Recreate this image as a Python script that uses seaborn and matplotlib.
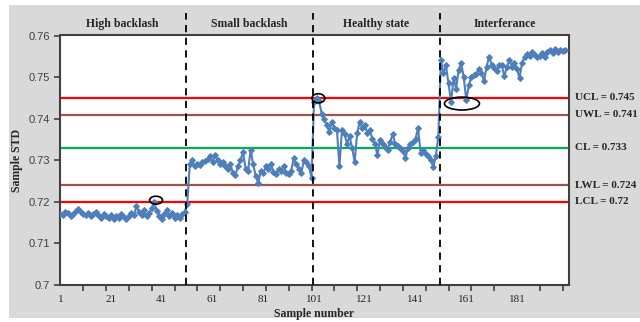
import numpy as np
import pandas as pd
import seaborn as sns
import matplotlib.pyplot as plt
from matplotlib.patches import Ellipse, Rectangle
import matplotlib.transforms as mtransforms

# ---------------- data ----------------
high_backlash = [
    0.7170, 0.7168, 0.7175, 0.7172, 0.7165, 0.7170, 0.7178, 0.7182, 0.7175, 0.7170,
    0.7168, 0.7172, 0.7165, 0.7170, 0.7175, 0.7168, 0.7162, 0.7170, 0.7165, 0.7160,
    0.7168, 0.7158, 0.7165, 0.7160, 0.7170, 0.7163, 0.7158, 0.7165, 0.7172, 0.7168,
    0.7190, 0.7175, 0.7168, 0.7180, 0.7165, 0.7172, 0.7185, 0.7200, 0.7178, 0.7165,
    0.7158, 0.7170, 0.7180, 0.7165, 0.7172, 0.7160, 0.7168, 0.7162, 0.7170, 0.7175,
]
small_backlash = [
    0.7195, 0.7290, 0.7300, 0.7285, 0.7292, 0.7288, 0.7295, 0.7298, 0.7302, 0.7310,
    0.7295, 0.7312, 0.7300, 0.7290, 0.7295, 0.7285, 0.7278, 0.7290, 0.7270, 0.7265,
    0.7285, 0.7300, 0.7320, 0.7280, 0.7275, 0.7325, 0.7290, 0.7262, 0.7245, 0.7275,
    0.7270, 0.7285, 0.7280, 0.7290, 0.7272, 0.7268, 0.7280, 0.7275, 0.7285, 0.7270,
    0.7268, 0.7275, 0.7305, 0.7290, 0.7280, 0.7270, 0.7300, 0.7295, 0.7285, 0.7258,
]
healthy_state = [
    0.7440, 0.7450, 0.7442, 0.7412, 0.7398, 0.7385, 0.7368, 0.7392, 0.7378, 0.7373,
    0.7286, 0.7372, 0.7362, 0.7340, 0.7358, 0.7330, 0.7296, 0.7365, 0.7393, 0.7378,
    0.7385, 0.7365, 0.7372, 0.7350, 0.7338, 0.7312, 0.7349, 0.7340, 0.7332, 0.7325,
    0.7345, 0.7362, 0.7340, 0.7335, 0.7330, 0.7322, 0.7305, 0.7330, 0.7338, 0.7345,
    0.7352, 0.7378, 0.7318, 0.7325, 0.7315, 0.7310, 0.7300, 0.7284, 0.7310, 0.7357,
]
interference = [
    0.7540, 0.7510, 0.7528, 0.7485, 0.7440, 0.7498, 0.7472, 0.7518, 0.7533, 0.7500,
    0.7445, 0.7480, 0.7500, 0.7505, 0.7508, 0.7520, 0.7510, 0.7490, 0.7525, 0.7549,
    0.7530, 0.7522, 0.7515, 0.7530, 0.7528, 0.7502, 0.7525, 0.7540, 0.7525, 0.7535,
    0.7520, 0.7497, 0.7535, 0.7548, 0.7555, 0.7550, 0.7561, 0.7552, 0.7548, 0.7550,
    0.7557, 0.7548, 0.7560, 0.7565, 0.7558, 0.7567, 0.7560, 0.7565, 0.7562, 0.7566,
]
sample_std = high_backlash + small_backlash + healthy_state + interference
sample_number = list(range(1, len(sample_std) + 1))

section_names = ["High backlash", "Small backlash", "Healthy state", "Interferance"]
section_edges = [50.5, 100.5, 150.5]
section_centers = [25.5, 75.5, 125.5, 176]

limit_names = ["UCL", "UWL", "CL", "LWL", "LCL"]
limit_values = [0.745, 0.741, 0.733, 0.724, 0.72]
limit_labels = ["UCL = 0.745", "UWL = 0.741", "CL = 0.733", "LWL = 0.724", "LCL = 0.72"]
limit_colors = ["#ff0000", "#a0524f", "#00b050", "#a0524f", "#ff0000"]

x_tick_values = [1, 21, 41, 61, 81, 101, 121, 141, 161, 181]
y_tick_values = [0.70, 0.71, 0.72, 0.73, 0.74, 0.75, 0.76]
y_tick_labels = ["0.7", "0.71", "0.72", "0.73", "0.74", "0.75", "0.76"]

# circled points (sample, value, width in samples, height in value)
highlight_x = [38.7, 102.7, 159.3]
highlight_y = [0.7204, 0.7449, 0.74363]
highlight_w = [5.1, 5.1, 13.8]
highlight_h = [0.0019, 0.0022, 0.0031]

df = pd.DataFrame({"Sample number": sample_number, "Sample STD": sample_std})

# ---------------- figure ----------------
sns.set_style("white")
SERIF = ["Liberation Serif", "DejaVu Serif"]
SANS = ["Liberation Sans", "DejaVu Sans"]

fig = plt.figure(figsize=(6.4, 3.22), dpi=100)
fig.patch.set_facecolor("white")
fig.patches.append(Rectangle((9 / 640, 1 - 318 / 322), (640 - 9) / 640, (318 - 5) / 322,
                             transform=fig.transFigure, facecolor="#d9d9d9",
                             edgecolor="none", zorder=-10))

ax = fig.add_axes([59.5 / 640, 1 - 285 / 322, (569 - 59.5) / 640, (285 - 35.5) / 322])
ax.set_facecolor("white")

# control limits
for val, col in zip(limit_values, limit_colors):
    ax.axhline(val, color=col, lw=1.6, zorder=1)

sns.lineplot(data=df, x="Sample number", y="Sample STD", ax=ax, color="#4f7fba",
             linewidth=1.5, marker="D", markersize=3.0, markeredgecolor="#4f7fba",
             zorder=3)

# section separators
for xe in section_edges:
    ax.axvline(xe, ymin=0, ymax=(285 - 13) / 249.5, color="black", lw=1.3,
               ls=(0, (4, 3)), clip_on=False, zorder=4)

trans = mtransforms.blended_transform_factory(ax.transData, ax.transAxes)
for name, xc in zip(section_names, section_centers):
    ax.text(xc, (285 - 24) / 249.5, name, transform=trans, ha="center", va="center",
            fontsize=8.5, fontweight="bold", family=SERIF)

trans2 = mtransforms.blended_transform_factory(ax.transAxes, ax.transData)
for lab, val in zip(limit_labels, limit_values):
    ax.text((575 - 59.5) / 509.5, val, lab, transform=trans2, ha="left", va="center",
            fontsize=8, fontweight="bold", family=SERIF, clip_on=False)

for cx, cy, w, h in zip(highlight_x, highlight_y, highlight_w, highlight_h):
    ax.add_patch(Ellipse((cx, cy), w, h, facecolor="none", edgecolor="black",
                         lw=1.2, zorder=5))

ax.set_xlim(0.65, 201.5)
ax.set_ylim(0.70, 0.76)

ax.set_xticks(x_tick_values)
ax.set_xticklabels([str(v) for v in x_tick_values], family=SERIF, fontsize=8)
ax.set_xticks(list(range(1, 201, 9)), minor=True)
ax.tick_params(axis="x", which="major", length=0, pad=7)
ax.tick_params(axis="x", which="minor", direction="out", length=4, width=1.2,
               color="#404040", bottom=True)

ax.set_yticks(y_tick_values)
ax.set_yticklabels(y_tick_labels, family=SANS, fontsize=8, color="#404040")
ax.tick_params(axis="y", which="major", direction="out", length=4, width=1.2,
               color="#404040", left=True, pad=3)

for sp in ax.spines.values():
    sp.set_color("#404040")
    sp.set_linewidth(1.5)

ax.set_xlabel("Sample number", family=SERIF, fontweight="bold", fontsize=8.5, labelpad=3)
ax.set_ylabel("Sample STD", family=SERIF, fontweight="bold", fontsize=8.5, labelpad=4)

fig.savefig("out.png", dpi=100)
